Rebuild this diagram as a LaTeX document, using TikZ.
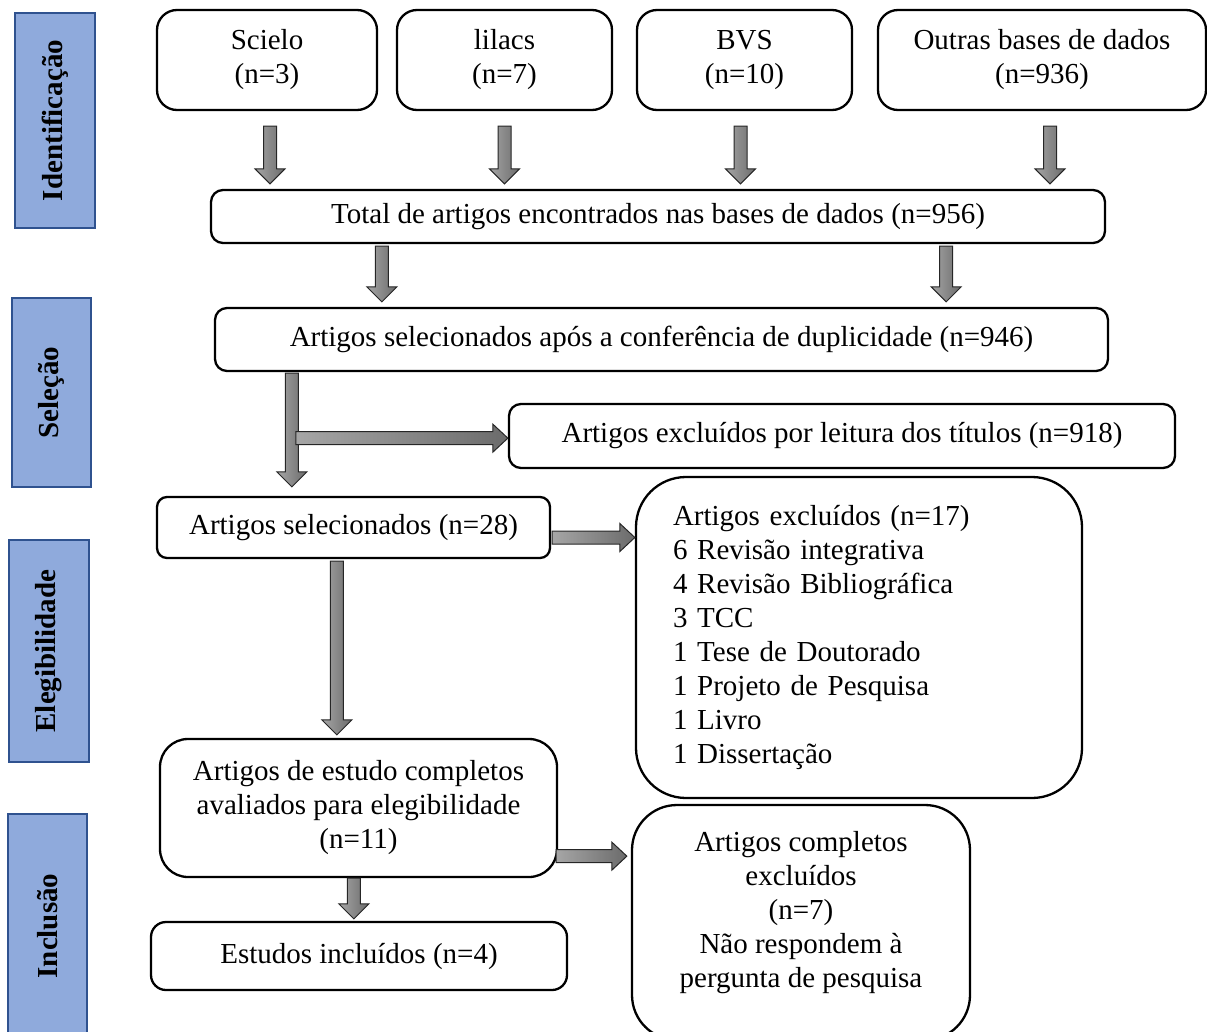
\documentclass[tikz,border=0pt]{standalone}
\usepackage{fontspec}
\setmainfont{Liberation Serif}
\usepackage{xcolor}
\usetikzlibrary{calc, positioning}

\definecolor{phasefill}{HTML}{8FAADC}
\definecolor{phaseline}{HTML}{2F528F}

% block arrows, drawn as outlined polygons
\newcommand{\blockdown}[2]{%
  \path[blockarrow] let \p1=(#1), \p2=(#2) in
    (\x1-6.5pt,\y1) -- (\x1+6.5pt,\y1) -- (\x1+6.5pt,\y2+15pt)
    -- (\x1+15pt,\y2+15pt) -- (\x1,\y2) -- (\x1-15pt,\y2+15pt)
    -- (\x1-6.5pt,\y2+15pt) -- cycle;}
\newcommand{\blockright}[2]{%
  \path[blockarrow] let \p1=(#1), \p2=(#2) in
    (\x1,\y1+6.5pt) -- (\x2-15pt,\y1+6.5pt) -- (\x2-15pt,\y1+14pt)
    -- (\x2,\y1) -- (\x2-15pt,\y1-14pt) -- (\x2-15pt,\y1-6.5pt)
    -- (\x1,\y1-6.5pt) -- cycle;}

\begin{document}
\begin{tikzpicture}[x=1pt,y=-1pt,
    font=\fontsize{29}{34}\selectfont,
    phase/.style={draw=phaseline,fill=phasefill,line width=2pt,rotate=90,
      font=\fontsize{29}{34}\selectfont\bfseries,inner sep=0pt},
    box/.style={draw,line width=2.3pt,rounded corners=#1,align=center,inner sep=0pt},
    box/.default=12pt,
    blockarrow/.style={draw=black!85,line width=1pt,left color=black!35,right color=black!58}]

  \useasboundingbox (0,0) rectangle (1207,1031);

  % phases
  \node[phase,minimum width=215pt,minimum height=80pt] (ident) at (55,120.5) {Identificação};
  \node[phase,minimum width=189pt,minimum height=79pt] (selec) at (51.5,392.5) {Seleção};
  \node[phase,minimum width=222pt,minimum height=80pt] (elegi) at (49,651) {Elegibilidade};
  \node[phase,minimum width=224pt,minimum height=79pt] (inclu) at (47.5,926) {Inclusão};

  % sources
  \node[box=20pt,minimum width=220pt,minimum height=100pt] (scielo) at (267,60) {Scielo\\(n=3)};
  \node[box=20pt,minimum width=215pt,minimum height=100pt] (lilacs) at (504.5,60) {lilacs\\(n=7)};
  \node[box=20pt,minimum width=215pt,minimum height=100pt] (bvs) at (744.5,60) {BVS\\(n=10)};
  \node[box=20pt,minimum width=328pt,minimum height=100pt] (outras) at (1042,60) {Outras bases de dados\\(n=936)};

  \node[box,minimum width=894pt,minimum height=53pt] (total) at (658,216.5)
    {Total de artigos encontrados nas bases de dados (n=956)};
  \node[box,minimum width=893pt,minimum height=63pt] (sel) at (661.5,339.5)
    {Artigos selecionados após a conferência de duplicidade (n=946)};
  \node[box,minimum width=666pt,minimum height=64pt] (titles) at (842,436)
    {Artigos excluídos por leitura dos títulos (n=918)};
  \node[box=10pt,minimum width=393pt,minimum height=61pt] (sel28) at (353.5,527.5)
    {Artigos selecionados (n=28)};
  \node[box=50pt,minimum width=446pt,minimum height=321pt,text width=372pt,
        inner xsep=37pt,align=left] (excl17) at (859,637.5)
    {Artigos excluídos (n=17)\\6 Revisão integrativa\\4 Revisão Bibliográfica\\3 TCC\\
     1 Tese de Doutorado\\1 Projeto de Pesquisa\\1 Livro\\1 Dissertação};
  \node[box=28pt,minimum width=397pt,minimum height=138pt] (full) at (358.5,808)
    {Artigos de estudo completos\\avaliados para elegibilidade\\(n=11)};
  \node[box=45pt,minimum width=338pt,minimum height=235pt] (cexcl) at (801,922.5) {};
  \node[align=center,inner sep=0pt] (cexcltxt) at (801,913)
    {Artigos completos\\excluídos\\(n=7)\\Não respondem à\\pergunta de pesquisa};
  \node[box=15pt,minimum width=416pt,minimum height=68pt] (incl) at (359,956)
    {Estudos incluídos (n=4)};

  % arrows
  \blockdown{$(scielo.south)+(3,15)$}{$(total.north)+(0,-5)$}
  \blockdown{$(lilacs.south)+(0,15)$}{$(total.north)+(0,-5)$}
  \blockdown{$(bvs.south)+(-4,15)$}{$(total.north)+(0,-5)$}
  \blockdown{$(outras.south)+(8,15)$}{$(total.north)+(0,-5)$}
  \blockdown{$(total.south west)+(172,2)$}{$(sel.north)+(0,-5)$}
  \blockdown{$(total.south east)+(-160,2)$}{$(sel.north)+(0,-5)$}
  \blockdown{$(sel.south west)+(78,1)$}{$(sel28.north)+(0,-9)$}
  \blockright{$(sel.south west)+(82,66)$}{titles.west}
  \blockright{$(sel28.east)+(1,10)$}{excl17.west}
  \blockdown{$(sel28.south west)+(181,2)$}{$(full.north)+(0,-3)$}
  \blockright{$(full.south east)+(-2,-22)$}{$(cexcl.west)+(-4,0)$}
  \blockdown{$(full.south west)+(195,0)$}{$(incl.north)+(0,-2)$}
\end{tikzpicture}
\end{document}
